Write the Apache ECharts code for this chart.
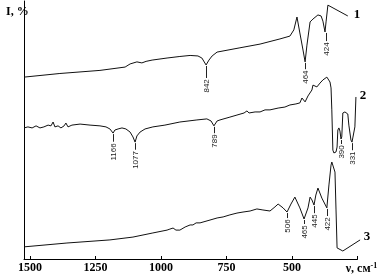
<!DOCTYPE html>
<html>
<head>
<meta charset="utf-8">
<script src="https://cdn.jsdelivr.net/npm/echarts@6/dist/echarts.min.js"></script>
<style>
html,body{margin:0;padding:0;background:#fff;}
#chart{width:384px;height:276px;}
</style>
</head>
<body>
<div id="chart"></div>
<script>
// Wavenumber (cm-1, as read on the axis) and intensity (I, %, arbitrary)
const curve1 = [
  [1523,70.5],[1386,71.9],[1233,73.1],[1137,74.4],[1118,75.6],[1092,76.4],[1073,76.0],[1057,76.6],
  [1034,77.1],[977,77.9],[928,78.5],[889,78.9],[859,78.7],[844,77.9],[828,75.2],[817,77.1],[805,78.7],
  [786,80.2],[702,81.8],[622,83.3],[546,85.3],[508,86.4],[493,88.8],[481,93.8],[470,87.6],[458,81.0],
  [450,76.4],[443,82.9],[431,91.9],[420,93.0],[401,94.6],[389,94.2],[382,92.2],[374,88.0],[370,91.9],[363,98.4]
];
const curve2 = [
  [1523,50.8],[1508,51.2],[1492,50.8],[1477,51.6],[1462,50.8],[1447,51.2],[1431,51.9],[1420,51.6],
  [1412,53.1],[1405,51.2],[1393,51.6],[1382,50.8],[1370,51.6],[1363,52.7],[1355,51.2],[1340,51.9],
  [1309,52.3],[1271,51.9],[1233,51.6],[1210,51.2],[1195,50.4],[1183,48.8],[1176,50.0],[1164,50.4],
  [1149,50.8],[1134,50.4],[1118,49.2],[1107,47.3],[1099,45.3],[1092,47.7],[1080,49.2],[1061,50.4],
  [1031,51.2],[985,51.9],[928,53.1],[863,53.9],[825,54.3],[809,53.5],[798,51.6],[786,53.5],[775,53.9],
  [737,55.0],[710,55.8],[683,56.6],[672,57.4],[664,56.6],[641,57.0],[622,57.0],[603,57.8],[584,57.8],
  [553,58.5],[527,58.9],[508,59.7],[485,60.1],[470,60.5],[462,62.4],[450,60.9],[439,63.2],[424,65.5],
  [420,67.4],[405,66.7],[393,68.2],[382,69.4],[367,70.5],[355,68.6],[351,66.3],[348,57.8],[344,42.2],
  [340,41.1],[332,41.5],[328,43.4],[325,50.0],[321,50.8],[317,49.6],[313,46.5],[310,47.3],[306,56.6],
  [298,57.0],[291,57.0],[287,56.2],[283,51.9],[275,46.1],[271,45.3],[268,46.9],[260,51.2],[256,62.8]
];
const curve3 = [
  [1523,4.7],[1359,6.2],[1195,7.4],[1107,8.5],[1031,10.1],[977,11.2],[966,11.6],[954,12.0],[943,11.2],
  [928,11.2],[908,12.4],[889,13.2],[878,13.2],[866,14.0],[851,14.0],[813,15.1],[786,15.9],[763,16.3],
  [737,17.1],[710,17.8],[687,18.2],[660,18.6],[634,19.4],[611,19.0],[584,18.6],[565,20.2],[553,21.3],
  [534,19.8],[519,18.2],[504,21.3],[489,24.0],[470,19.8],[454,15.5],[439,19.8],[431,24.0],[424,22.9],
  [416,20.9],[409,24.8],[401,27.5],[386,23.6],[367,19.8],[359,28.7],[351,36.4],[348,37.6],[344,37.2],
  [336,33.7],[332,19.0],[328,4.3],[306,3.1]
];
// Peak annotations: [label text, axis position, dip intensity, label-centre intensity]
const peaks1 = [['842',828,75.2,67.1],['464',450,76.4,70.5],['424',370,88.0,81.4]];
const peaks2 = [['1166',1183,48.8,41.5],['1077',1099,45.3,38.4],['789',798,51.6,45.7],['390',313,46.5,41.5],['331',271,45.3,39.1]];
const peaks3 = [['506',519,18.2,12.8],['465',454,15.5,10.5],['445',416,20.9,14.7],['422',367,19.8,13.6]];
// Curve numbers: [text, leader start x,y, leader end x,y (null = none), label x,y]
const curveTags = [
  ['1',363,98.4,287,94.2,252,94.6],
  ['2',null,null,null,null,229,63.4],
  ['3',306,3.1,240,7.4,214,8.5]
];
const xTicks = [1500,1250,1000,750,500];

const allPeaks = peaks1.concat(peaks2, peaks3);

const chart = echarts.init(document.getElementById('chart'), null, {renderer:'canvas'});
const lineSeries = (d) => ({
  type:'line', data:d, symbol:'none', showSymbol:false, clip:false, silent:true,
  lineStyle:{color:'#111', width:1}, animation:false
});
chart.setOption({
  animation:false,
  title:{text:'I, %', left:1, top:1, textStyle:{fontFamily:'Liberation Serif', fontSize:12, fontWeight:'bold', color:'#000'}},
  grid:{left:24, right:26.5, top:1, bottom:17, containLabel:false},
  xAxis:{
    type:'value', inverse:true, min:250, max:1523, interval:250,
    axisLine:{lineStyle:{color:'#000', width:1}},
    axisTick:{inside:true, length:3, lineStyle:{color:'#000'}},
    splitLine:{show:false},
    axisLabel:{
      margin:3, color:'#000', fontFamily:'Liberation Serif', fontSize:12, fontWeight:'bold',
      showMaxLabel:false,
      formatter:(v)=> v===250 ? '{a|ν, см}{s|-1}' : (xTicks.indexOf(v)>=0 ? String(v) : ''),
      rich:{
        a:{fontFamily:'Liberation Serif', fontSize:12, fontWeight:'bold', color:'#000', padding:[0,0,0,8]},
        s:{fontFamily:'Liberation Serif', fontSize:8, color:'#000', verticalAlign:'top', padding:[0,0,6,0]}
      }
    }
  },
  yAxis:{
    type:'value', min:0, max:100,
    axisLine:{show:true, lineStyle:{color:'#000', width:1}},
    axisTick:{show:false}, axisLabel:{show:false}, splitLine:{show:false}
  },
  series:[
    lineSeries(curve1), lineSeries(curve2), lineSeries(curve3),
    {
      type:'custom', clip:false, silent:true, animation:false,
      data: allPeaks.map(p=>[p[1],p[2],p[3]]),
      renderItem:(params, api)=>{
        const p = allPeaks[params.dataIndex];
        const dip = api.coord([api.value(0), api.value(1)]);
        const txt = api.coord([api.value(0), api.value(2)]);
        const half = p[0].length*2.3 + 1;
        const x = Math.round(dip[0]) + 0.5;
        return {type:'group', children:[
          {type:'line', shape:{x1:x, y1:dip[1]+1, x2:x, y2:txt[1]-half}, style:{stroke:'#222', lineWidth:1}},
          {type:'text', x:x, y:txt[1], rotation:Math.PI/2,
           style:{text:p[0], fontFamily:'Liberation Sans', fontSize:8, fill:'#222', align:'center', verticalAlign:'middle'}}
        ]};
      }
    },
    {
      type:'custom', clip:false, silent:true, animation:false,
      data: curveTags.map(t=>[t[5],t[6]]),
      renderItem:(params, api)=>{
        const t = curveTags[params.dataIndex];
        const children = [];
        if (t[1] !== null) {
          const a = api.coord([t[1],t[2]]), b = api.coord([t[3],t[4]]);
          children.push({type:'line', shape:{x1:a[0], y1:a[1], x2:b[0], y2:b[1]}, style:{stroke:'#111', lineWidth:1}});
        }
        const c = api.coord([api.value(0), api.value(1)]);
        children.push({type:'text', x:c[0], y:c[1],
          style:{text:t[0], fontFamily:'Liberation Serif', fontSize:13, fontWeight:'bold', fill:'#000', align:'center', verticalAlign:'middle'}});
        return {type:'group', children};
      }
    }
  ]
});
</script>
</body>
</html>
